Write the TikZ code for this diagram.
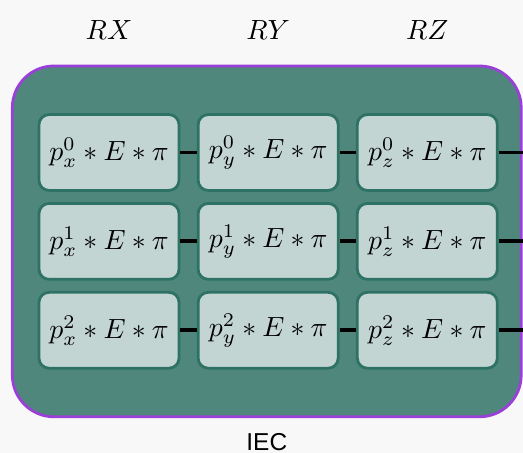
\documentclass[tikz,border=0pt]{standalone}
\usepackage{fontspec}
\usepackage{xcolor}
\usepackage{tikz}
\usetikzlibrary{positioning, fit, backgrounds}

\newfontfamily\labelfont{Liberation Sans}

\definecolor{pagebg}{HTML}{F8F8F8}
\definecolor{iecfill}{HTML}{4F877D}
\definecolor{iecline}{HTML}{9B3FD9}
\definecolor{termfill}{HTML}{C3D5D2}
\definecolor{termline}{HTML}{2D7265}

\begin{document}
\begin{tikzpicture}[
    x=0.36pt, y=-0.36pt,
    node distance=3.7pt and 5.9pt, % row and column gaps
    term/.style={
        draw=termline,
        fill=termfill,
        rounded corners=3.6pt,
        line width=1pt,
        minimum width=50.4pt,
        minimum height=27.3pt,
        inner sep=0pt,
        font=\normalsize
    },
    colhead/.style={inner sep=0pt},
    frame/.style={draw=iecline, fill=iecfill, line width=1pt, rounded corners=15pt, inner xsep=8.6pt, inner ysep=17pt, xshift=-0.5pt},
    link/.style={draw=black, line width=1.4pt}
]
% fix the page size first
\useasboundingbox (0,0) rectangle (523,453);

% Terms (first row places the grid)
\node[term] (x0) at (109,152.5) {$p_x^0*E*\pi$};
\node[term, right=of x0] (y0) {$p_y^0*E*\pi$};
\node[term, right=of y0] (z0) {$p_z^0*E*\pi$};

\node[term, below=of x0] (x1) {$p_x^1*E*\pi$};
\node[term, below=of y0] (y1) {$p_y^1*E*\pi$};
\node[term, below=of z0] (z1) {$p_z^1*E*\pi$};

\node[term, below=of x1] (x2) {$p_x^2*E*\pi$};
\node[term, below=of y1] (y2) {$p_y^2*E*\pi$};
\node[term, below=of z1] (z2) {$p_z^2*E*\pi$};

% Page and outer block behind the terms
\begin{scope}[on background layer]
    \fill[pagebg] (0,0) rectangle (523,453);
    \node[frame, fit=(x0)(z2)] (iec) {};
\end{scope}

% Column headers
\node[colhead, above=26.4pt of x0] (rx) {$RX$};
\node[colhead, above=26.4pt of y0] (ry) {$RY$};
\node[colhead, above=26.4pt of z0] (rz) {$RZ$};

% Block label
\node[colhead, below=5.4pt of iec, font=\labelfont\fontsize{8.8pt}{10pt}\selectfont] (ieclabel) {IEC};

% Connectors
\foreach \r in {0,1,2}{
    \coordinate (out\r) at (z\r.east -| iec.east);
    \draw[link] (x\r) -- (y\r);
    \draw[link] (y\r) -- (z\r);
    \draw[link] (z\r) -- (out\r);
}

\end{tikzpicture}
\end{document}
